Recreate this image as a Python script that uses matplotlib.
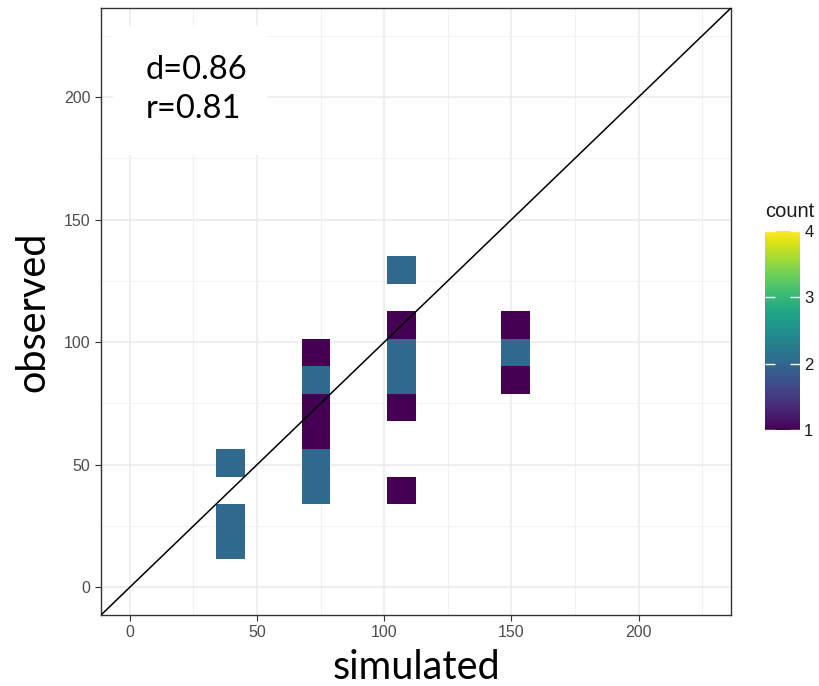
import matplotlib
matplotlib.use("Agg")
import matplotlib.pyplot as plt
from matplotlib.patches import Rectangle
import numpy as np

simulated = [40, 40, 40, 40, 40, 40,
             73, 73, 73, 73, 73, 73, 73, 73, 73,
             107, 107, 107, 107, 107, 107, 107, 107, 107,
             152, 152, 152, 152]
observed = [17, 17, 28, 28, 51, 51,
            96, 85, 85, 73, 62, 51, 51, 40, 40,
            130, 130, 107, 96, 96, 85, 85, 73, 40,
            107, 96, 96, 85]

stat_text = "d=0.86\nr=0.81"
x_ticks = [0, 50, 100, 150, 200]
y_ticks = [0, 50, 100, 150, 200]
count_ticks = [1, 2, 3, 4]

lim = (-11.25, 236.25)
xbin = 11.2
ybin = 11.25
xedges = 34.0 + xbin * np.arange(0, 12)
yedges = 11.4 + ybin * np.arange(0, 12)

fig = plt.figure(figsize=(8.19, 6.86), dpi=100)
ax = fig.add_axes([101 / 819, 71 / 686, 630 / 819, 607 / 686])

h = ax.hist2d(simulated, observed, bins=[xedges, yedges], cmin=1,
              cmap="viridis", vmin=1, vmax=4, zorder=2)

ax.plot(lim, lim, color="black", lw=1.1, zorder=3)

ax.set_xlim(lim)
ax.set_ylim(lim)
ax.set_xticks(x_ticks)
ax.set_yticks(y_ticks)
ax.set_xticks([25, 75, 125, 175, 225], minor=True)
ax.set_yticks([25, 75, 125, 175, 225], minor=True)
ax.grid(True, which="major", color="#EBEBEB", lw=1.1, zorder=0)
ax.grid(True, which="minor", color="#F2F2F2", lw=0.8, zorder=0)
ax.set_axisbelow(True)
ax.tick_params(which="minor", length=0)
ax.tick_params(which="major", length=4, color="#333333", width=0.8,
               labelsize=11.5, labelcolor="#4D4D4D")
for lab in ax.get_xticklabels() + ax.get_yticklabels():
    lab.set_family("Liberation Sans")
for s in ax.spines.values():
    s.set_color("#333333")
    s.set_linewidth(1.0)

# white label box behind the statistics
ax.add_patch(Rectangle((0.019, 0.758), 0.244, 0.213, transform=ax.transAxes,
                       facecolor="white", edgecolor="none", zorder=1.5))
ax.text(6.3, 203, stat_text, fontsize=23.5, family="Lato", va="center",
        ha="left", linespacing=1.35, zorder=4)

ax.set_xlabel("simulated", fontsize=28.5, family="Lato", labelpad=6)
ax.set_ylabel("observed", fontsize=28.5, family="Lato", labelpad=9)

cax = fig.add_axes([765 / 819, 256 / 686, 35 / 819, 199 / 686])
cb = fig.colorbar(h[3], cax=cax, ticks=count_ticks)
cb.outline.set_visible(False)
cax.tick_params(left=True, right=True, direction="in", length=7, width=1,
                color="white", labelsize=12, labelcolor="#1A1A1A", pad=3)
for lab in cax.get_yticklabels():
    lab.set_family("Liberation Sans")
cax.set_title("count", fontsize=14.5, family="Liberation Sans", loc="left",
              pad=10, color="#1A1A1A")

fig.savefig("out.png", dpi=100)
